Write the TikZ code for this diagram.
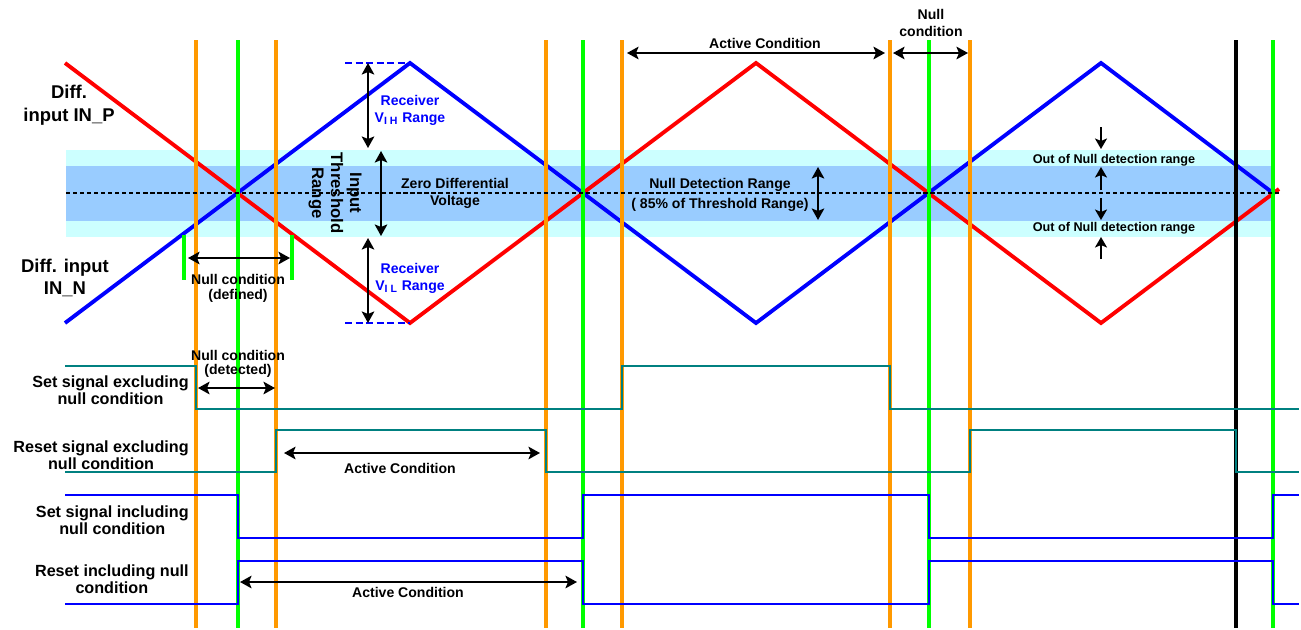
\documentclass[tikz,border=0pt]{standalone}
\usepackage{fontspec}
\setmainfont{Liberation Sans}
\usetikzlibrary{arrows.meta, positioning, calc}

\definecolor{mkorange}{RGB}{255,153,0}
\definecolor{mkgreen}{RGB}{0,255,0}
\definecolor{sigteal}{RGB}{0,128,128}
\definecolor{bandouter}{RGB}{204,255,255}
\definecolor{bandinner}{RGB}{153,204,255}

\begin{document}
\begin{tikzpicture}[x=0.02cm, y=-0.02cm,
    wave/.style={line width=2.2pt, line join=miter},
    marker/.style={line width=2.2pt},
    sig/.style={line width=1.1pt},
    dimarrow/.style={{Stealth[length=2.3mm,width=2.5mm,inset=0.5mm]}-{Stealth[length=2.3mm,width=2.5mm,inset=0.5mm]}, line width=1.3pt},
    onearrow/.style={-{Stealth[length=2.1mm,width=2.4mm,inset=0.5mm]}, line width=1.3pt},
    lbl/.style={font=\bfseries\fontsize{8}{9.6}\selectfont, align=center, inner sep=0pt},
    biglbl/.style={font=\bfseries\fontsize{10.5}{13}\selectfont, align=center, inner sep=0pt},
    siglbl/.style={font=\bfseries\fontsize{9.2}{9.4}\selectfont, align=center, inner sep=0pt, anchor=east},
    rxlbl/.style={lbl, text=blue}
]
\useasboundingbox (0,0) rectangle (1301,629);

\fill[bandouter] (66,150) rectangle (1273,237);
\fill[bandinner] (66,166) rectangle (1273,221);

\draw[wave, red]  (65,63) -- (410,323) -- (756,63) -- (1101,323) -- (1279,189);
\draw[wave, blue] (65,323) -- (410,63) -- (756,323) -- (1101,63) -- (1273,193);

\foreach \x/\c in {196/mkorange, 238/mkgreen, 276/mkorange, 546/mkorange, 583/mkgreen,
                   622/mkorange, 890/mkorange, 929/mkgreen, 970/mkorange, 1236/black, 1273/mkgreen}
  \draw[marker, \c] (\x,40) -- (\x,628);

\draw[line width=0.6pt, dash pattern=on 2.4pt off 1.6pt] (66,193) -- (1280,193);

\draw[blue, line width=1.1pt, dash pattern=on 4pt off 2pt] (345,63) -- (410,63);
\draw[blue, line width=1.1pt, dash pattern=on 4pt off 2pt] (345,323) -- (410,323);

\draw[marker, mkgreen] (184,235) -- (184,280);
\draw[marker, mkgreen] (292,235) -- (292,280);

\draw[dimarrow] (368,63) -- (368,148);
\draw[dimarrow] (368,238) -- (368,323);
\draw[dimarrow] (381,151) -- (381,236);
\draw[dimarrow] (818,167) -- (818,220);
\draw[dimarrow] (188,258) -- (290,258);
\draw[dimarrow] (627,53) -- (885,53);
\draw[dimarrow] (893,53) -- (968,53);
\draw[dimarrow] (198,388) -- (275,388);
\draw[dimarrow] (284,453) -- (540,453);
\draw[dimarrow] (240,582) -- (577,582);

\draw[onearrow] (1101,127) -- (1101,149);
\draw[onearrow] (1101,190) -- (1101,167);
\draw[onearrow] (1101,198) -- (1101,220);
\draw[onearrow] (1101,259) -- (1101,237);

\draw[sig, sigteal] (65,366) -- (196,366) -- (196,409) -- (622,409) -- (622,366)
    -- (890,366) -- (890,409) -- (1299,409);
\draw[sig, sigteal] (65,472) -- (276,472) -- (276,430) -- (546,430) -- (546,472)
    -- (970,472) -- (970,430) -- (1236,430) -- (1236,472) -- (1299,472);
\draw[sig, blue] (65,495) -- (238,495) -- (238,538) -- (583,538) -- (583,495)
    -- (929,495) -- (929,538) -- (1273,538) -- (1273,495) -- (1299,495);
\draw[sig, blue] (65,604) -- (238,604) -- (238,561) -- (583,561) -- (583,604)
    -- (929,604) -- (929,561) -- (1273,561) -- (1273,604) -- (1299,604);

\node[biglbl] (inp) at (69,105) {Diff.\\input IN\_P};
\node[biglbl] (inn) at (65,278) {Diff. input\\IN\_N};

\node[rxlbl] (vih) at (410,110) {Receiver\\V\textsubscript{I H} Range};
\node[rxlbl] (vil) at (410,278) {Receiver\\V\textsubscript{I L} Range};
\node[lbl, font=\bfseries\fontsize{9.5}{10.8}\selectfont, rotate=-90] (thr) at (335,193) {Input\\Threshold\\Range};
\node[lbl] (zero) at (455,193) {Zero Differential\\Voltage};
\node[lbl, font=\bfseries\fontsize{8}{11}\selectfont] (ndr) at (720,195) {Null Detection Range\\( 85\% of Threshold Range)};
\node[lbl, font=\bfseries\fontsize{7.2}{8}\selectfont] (outhi) at (1114,160) {Out of Null detection range};
\node[lbl, font=\bfseries\fontsize{7.2}{8}\selectfont] (outlo) at (1114,228) {Out of Null detection range};

\node[lbl] (acttop) at (765,43) {Active Condition};
\node[lbl] (nulltop) at (931,23) {Null\\condition};
\node[lbl, font=\bfseries\fontsize{8}{8.4}\selectfont] (nulldef) at (238,288) {Null condition\\(defined)};
\node[lbl, font=\bfseries\fontsize{8}{7.6}\selectfont] (nulldet) at (238,364) {Null condition\\(detected)};
\node[lbl] (actrst) at (400,468) {Active Condition};
\node[lbl] (actinc) at (408,592) {Active Condition};

\node[siglbl] (setex) at (189,390) {Set signal excluding\\null condition};
\node[siglbl] (rstex) at (189,455) {Reset signal excluding\\null condition};
\node[siglbl] (setin) at (189,520) {Set signal including\\null condition};
\node[siglbl] (rstin) at (189,579) {Reset including null\\condition};
\end{tikzpicture}
\end{document}
